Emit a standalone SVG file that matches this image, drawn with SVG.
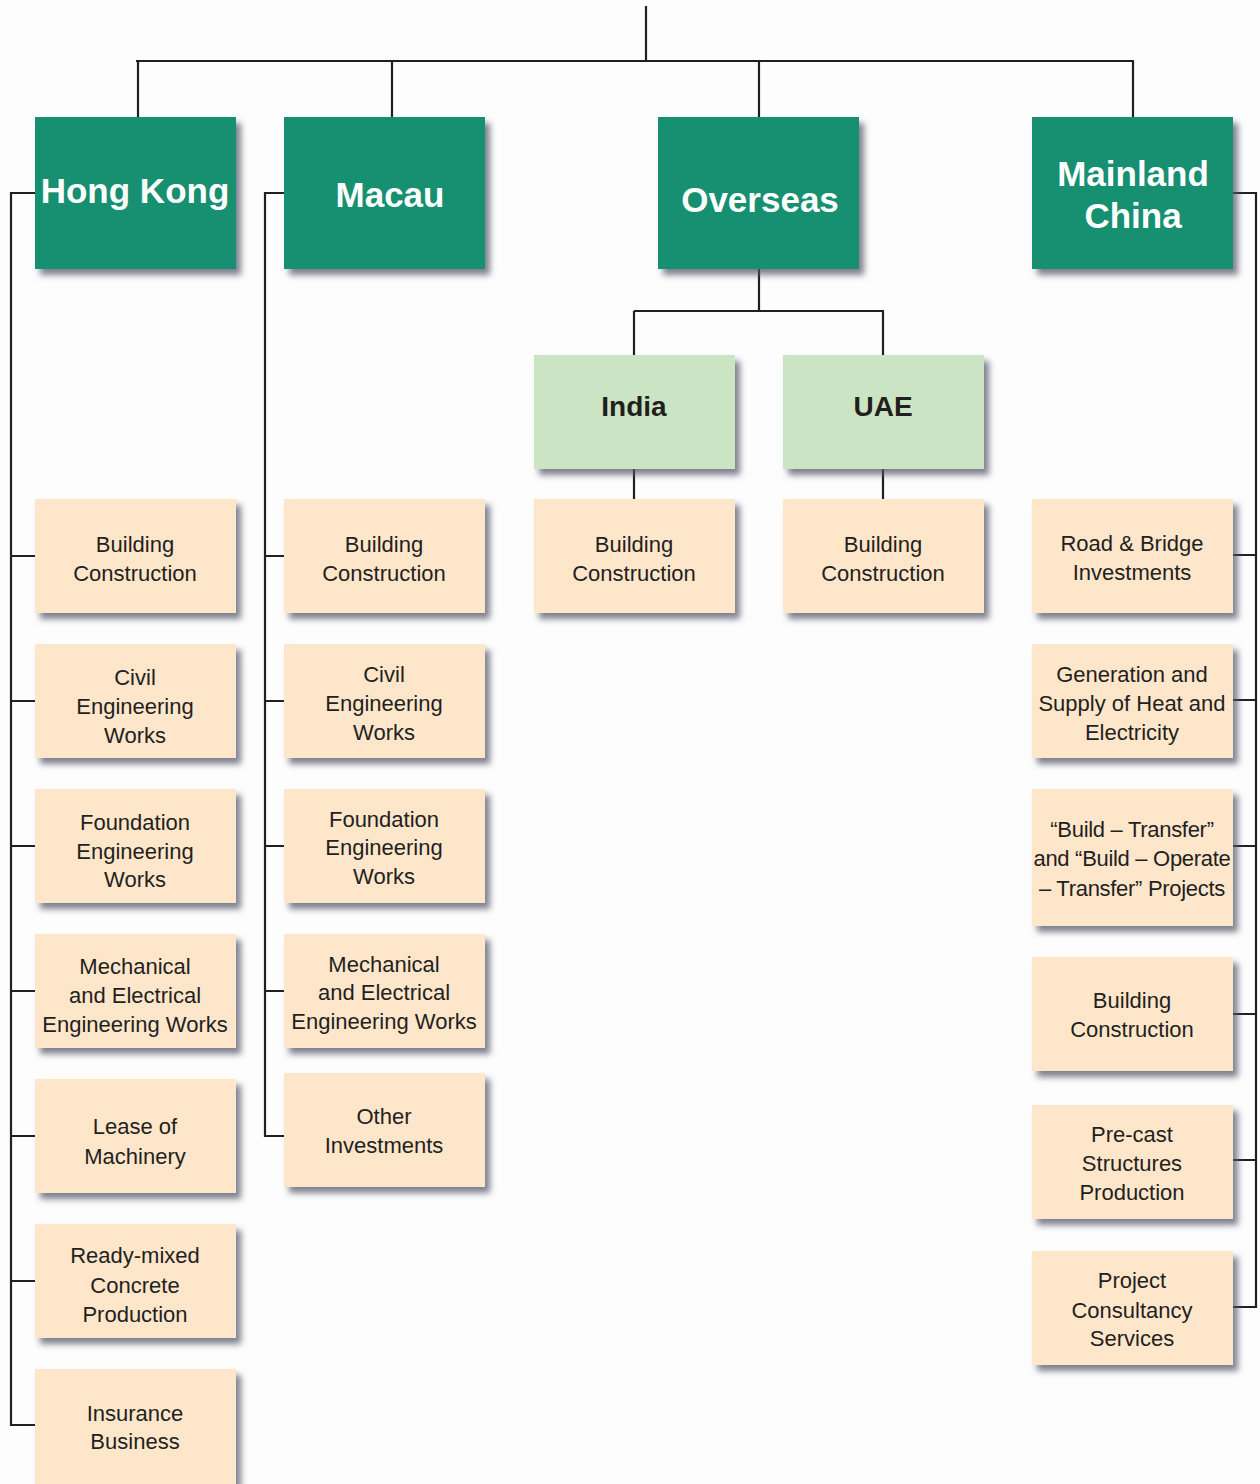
<svg xmlns="http://www.w3.org/2000/svg" width="1260" height="1484" viewBox="0 0 1260 1484">
<defs>
<filter id="sh" x="-10%" y="-10%" width="130%" height="140%">
<feDropShadow dx="5" dy="6" stdDeviation="3" flood-color="#55566a" flood-opacity="0.75"/>
</filter>
<style>
.hd{fill:#139070;filter:url(#sh)}
.sub{fill:#cbe4c3;filter:url(#sh)}
.lf{fill:#fee6cb;filter:url(#sh)}
.ht{font-family:"Liberation Sans",Arial,sans-serif;font-weight:bold;font-size:35px;fill:#ffffff;text-anchor:middle}
.st{font-family:"Liberation Sans",Arial,sans-serif;font-weight:bold;font-size:28px;fill:#231f20;text-anchor:middle}
.lt{font-family:"Liberation Sans",Arial,sans-serif;font-size:22px;fill:#231f20;text-anchor:middle}
.tight{letter-spacing:-0.3px}
.cn{fill:none;stroke:#231f20;stroke-width:2.2}
</style>
</defs>
<rect width="1260" height="1484" fill="#fdfdfd"/>
<g id="connectors" class="cn">
<path d="M646 6V61M136 61H1134M138 61V117M392 61V117M759 61V117M1133 61V117"/>
<path d="M759 268V311M634 311H884M634 311V355M883 311V355M634 469V499M883 469V499"/>
<path d="M35 193H11V1425H35M11 556H35M11 701H35M11 846H35M11 991H35M11 1136H35M11 1281H35"/>
<path d="M284 193H265V1136H284M265 556H284M265 701H284M265 846H284M265 991H284"/>
<path d="M1233 193H1256V1307H1233M1233 555H1256M1233 700H1256M1233 846H1256M1233 1014H1256M1233 1160H1256"/>
</g>
<g id="hong-kong"><rect class="hd" x="35" y="117" width="201" height="152"/><text class="ht" x="135" y="203">Hong Kong</text></g>
<g id="macau"><rect class="hd" x="284" y="117" width="201" height="152"/><text class="ht" x="390" y="207">Macau</text></g>
<g id="overseas"><rect class="hd" x="658" y="117" width="201" height="152"/><text class="ht" x="760" y="212">Overseas</text></g>
<g id="mainland-china"><rect class="hd" x="1032" y="117" width="201" height="152"/><text class="ht" x="1133" y="186">Mainland</text><text class="ht" x="1133" y="228">China</text></g>
<g id="india"><rect class="sub" x="534" y="355" width="201" height="114"/><text class="st" x="634" y="416">India</text></g>
<g id="uae"><rect class="sub" x="783" y="355" width="201" height="114"/><text class="st" x="883" y="416">UAE</text></g>

<g id="hk-building"><rect class="lf" x="35" y="499" width="201" height="114"/><text class="lt" x="135" y="552">Building</text><text class="lt" x="135" y="581">Construction</text></g>
<g id="hk-civil"><rect class="lf" x="35" y="644" width="201" height="114"/><text class="lt" x="135" y="685">Civil</text><text class="lt" x="135" y="714">Engineering</text><text class="lt" x="135" y="743">Works</text></g>
<g id="hk-foundation"><rect class="lf" x="35" y="789" width="201" height="114"/><text class="lt" x="135" y="830">Foundation</text><text class="lt" x="135" y="859">Engineering</text><text class="lt" x="135" y="887">Works</text></g>
<g id="hk-me"><rect class="lf" x="35" y="934" width="201" height="114"/><text class="lt" x="135" y="974">Mechanical</text><text class="lt" x="135" y="1003">and Electrical</text><text class="lt" x="135" y="1032">Engineering Works</text></g>
<g id="hk-lease"><rect class="lf" x="35" y="1079" width="201" height="114"/><text class="lt" x="135" y="1134">Lease of</text><text class="lt" x="135" y="1164">Machinery</text></g>
<g id="hk-concrete"><rect class="lf" x="35" y="1224" width="201" height="114"/><text class="lt" x="135" y="1263">Ready-mixed</text><text class="lt" x="135" y="1293">Concrete</text><text class="lt" x="135" y="1322">Production</text></g>
<g id="hk-insurance"><rect class="lf" x="35" y="1369" width="201" height="120"/><text class="lt" x="135" y="1421">Insurance</text><text class="lt" x="135" y="1449">Business</text></g>

<g id="mo-building"><rect class="lf" x="284" y="499" width="201" height="114"/><text class="lt" x="384" y="552">Building</text><text class="lt" x="384" y="581">Construction</text></g>
<g id="mo-civil"><rect class="lf" x="284" y="644" width="201" height="114"/><text class="lt" x="384" y="682">Civil</text><text class="lt" x="384" y="711">Engineering</text><text class="lt" x="384" y="740">Works</text></g>
<g id="mo-foundation"><rect class="lf" x="284" y="789" width="201" height="114"/><text class="lt" x="384" y="827">Foundation</text><text class="lt" x="384" y="855">Engineering</text><text class="lt" x="384" y="884">Works</text></g>
<g id="mo-me"><rect class="lf" x="284" y="934" width="201" height="114"/><text class="lt" x="384" y="972">Mechanical</text><text class="lt" x="384" y="1000">and Electrical</text><text class="lt" x="384" y="1029">Engineering Works</text></g>
<g id="mo-other"><rect class="lf" x="284" y="1073" width="201" height="114"/><text class="lt" x="384" y="1124">Other</text><text class="lt" x="384" y="1153">Investments</text></g>

<g id="in-building"><rect class="lf" x="534" y="499" width="201" height="114"/><text class="lt" x="634" y="552">Building</text><text class="lt" x="634" y="581">Construction</text></g>
<g id="uae-building"><rect class="lf" x="783" y="499" width="201" height="114"/><text class="lt" x="883" y="552">Building</text><text class="lt" x="883" y="581">Construction</text></g>

<g id="cn-road"><rect class="lf" x="1032" y="499" width="201" height="114"/><text class="lt" x="1132" y="551">Road &amp; Bridge</text><text class="lt" x="1132" y="580">Investments</text></g>
<g id="cn-heat"><rect class="lf" x="1032" y="644" width="201" height="114"/><text class="lt" x="1132" y="682">Generation and</text><text class="lt" x="1132" y="711">Supply of Heat and</text><text class="lt" x="1132" y="740">Electricity</text></g>
<g id="cn-bt"><rect class="lf" x="1032" y="789" width="201" height="137"/><text class="lt tight" x="1132" y="837">“Build – Transfer”</text><text class="lt tight" x="1132" y="866">and “Build – Operate</text><text class="lt tight" x="1132" y="896">– Transfer” Projects</text></g>
<g id="cn-building"><rect class="lf" x="1032" y="957" width="201" height="114"/><text class="lt" x="1132" y="1008">Building</text><text class="lt" x="1132" y="1037">Construction</text></g>
<g id="cn-precast"><rect class="lf" x="1032" y="1105" width="201" height="114"/><text class="lt" x="1132" y="1142">Pre-cast</text><text class="lt" x="1132" y="1171">Structures</text><text class="lt" x="1132" y="1200">Production</text></g>
<g id="cn-consultancy"><rect class="lf" x="1032" y="1251" width="201" height="114"/><text class="lt" x="1132" y="1288">Project</text><text class="lt" x="1132" y="1318">Consultancy</text><text class="lt" x="1132" y="1346">Services</text></g>
</svg>
